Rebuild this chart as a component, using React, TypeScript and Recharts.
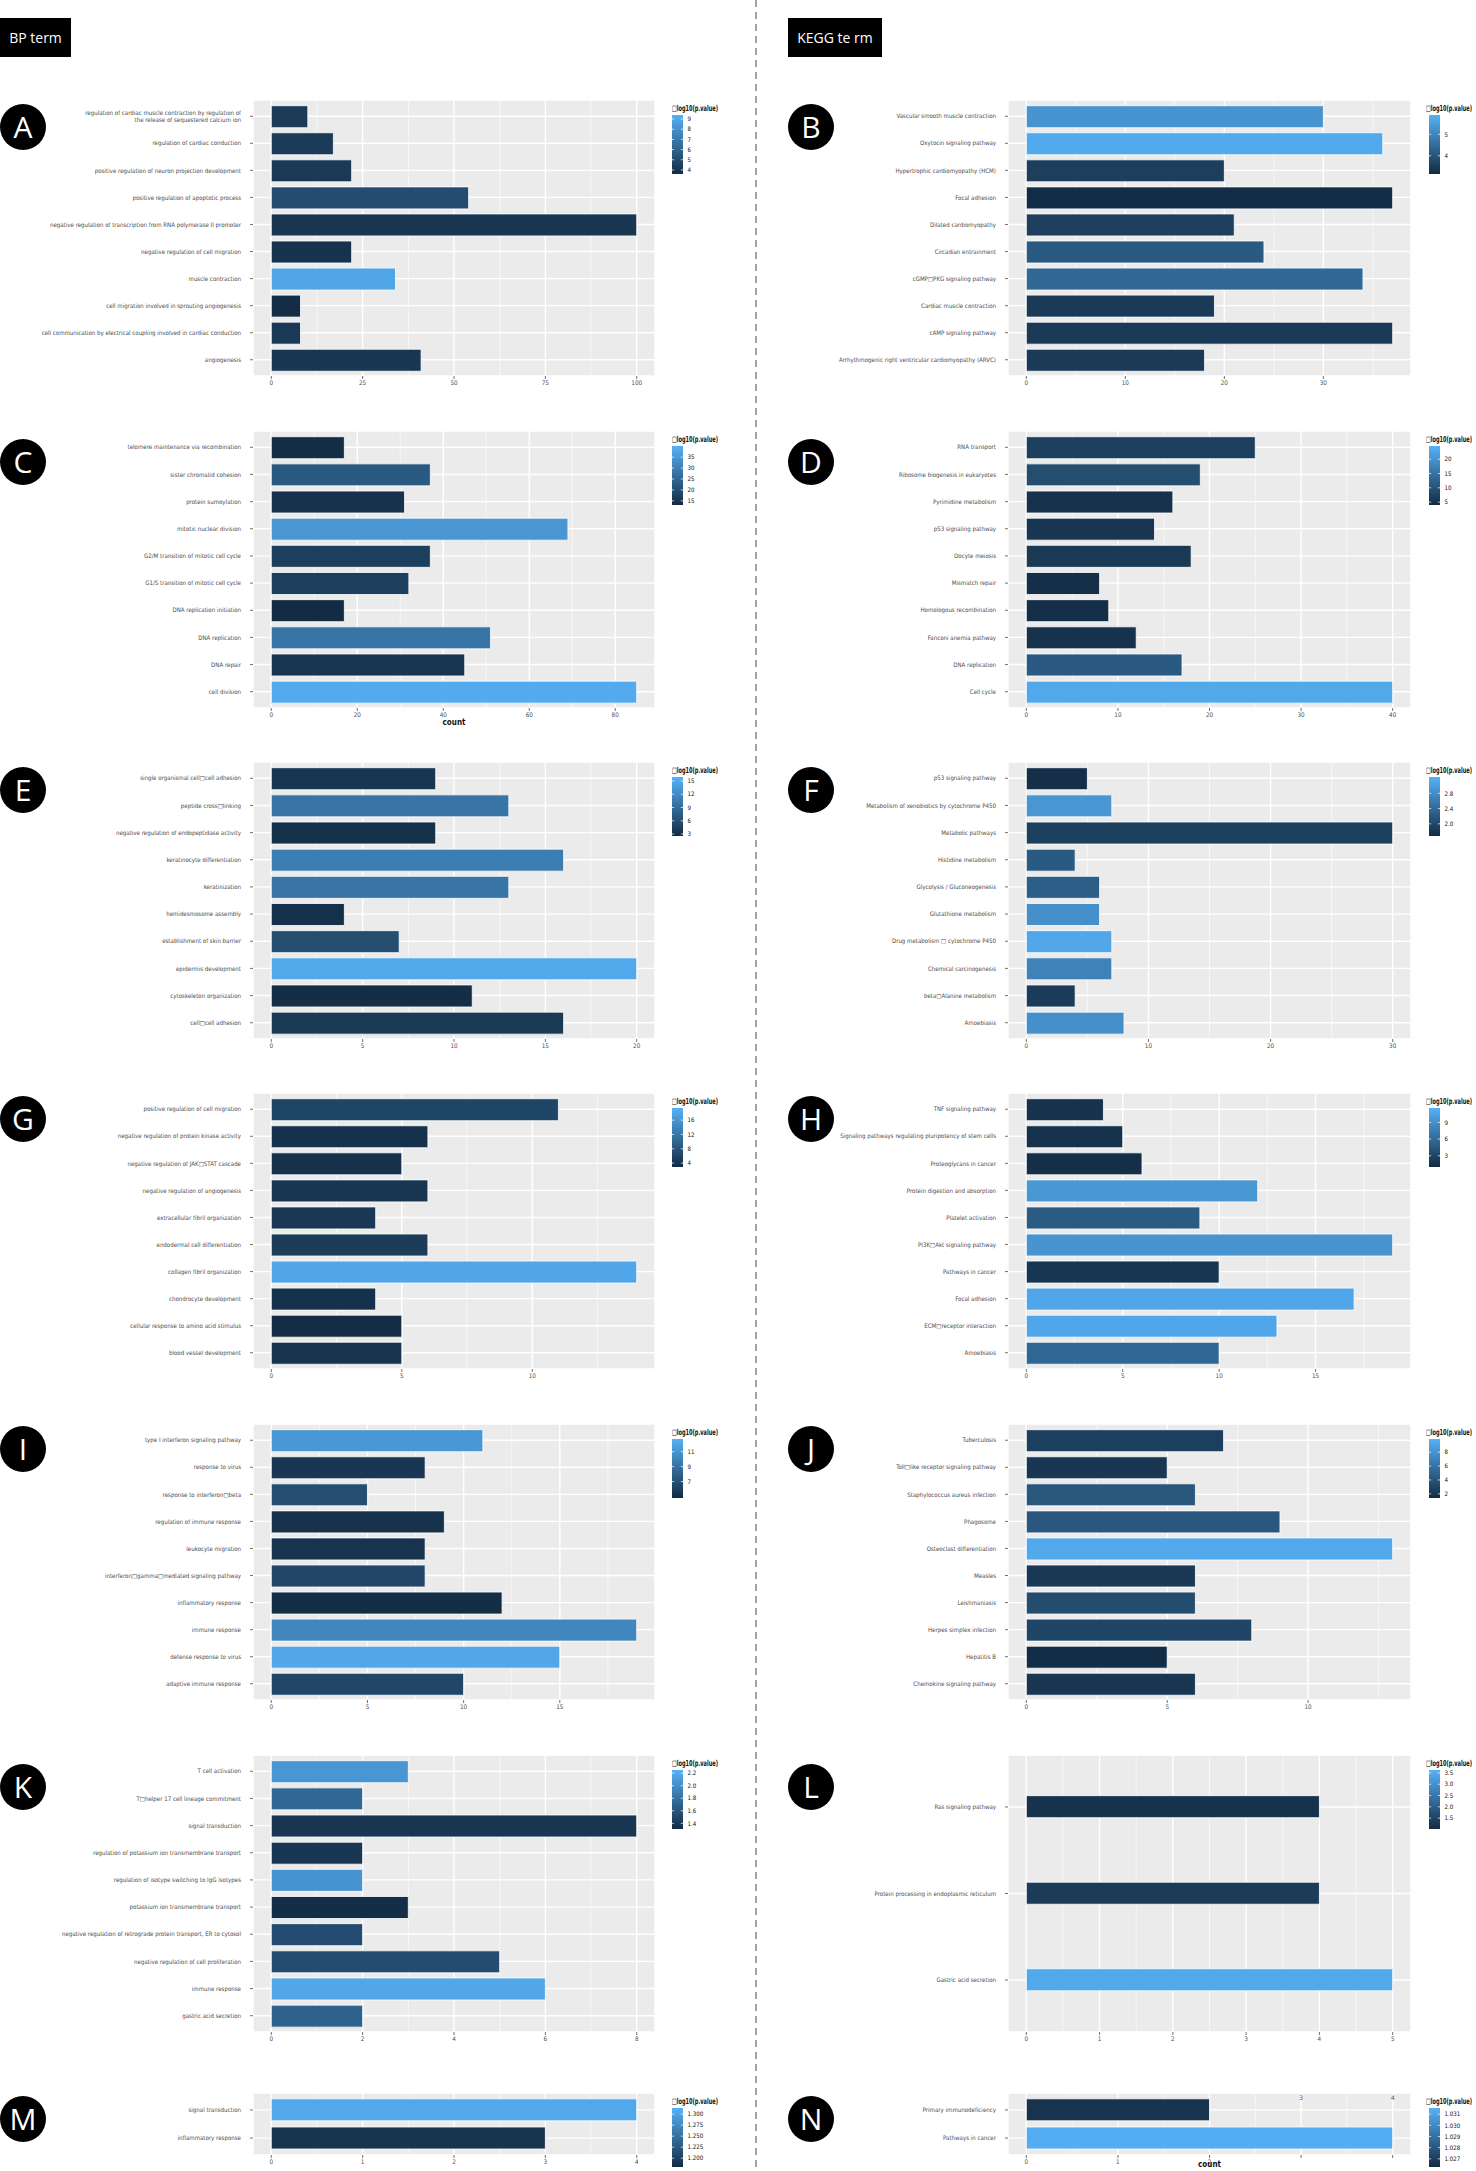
import React from "react";
import { BarChart, Bar, XAxis, YAxis, CartesianGrid, Cell } from "recharts";

const FONT = "'Liberation Sans Narrow', 'DejaVu Sans Condensed', 'Noto Sans', sans-serif";
const HEAD_FONT = "'Open Sans', 'Noto Sans', sans-serif";
const B = "\u25A1";

// ---------- Panel A (BP) ----------
const catsA = [
  "regulation of cardiac muscle contraction by regulation of\nthe release of sequestered calcium ion",
  "regulation of cardiac conduction",
  "positive regulation of neuron projection development",
  "positive regulation of apoptotic process",
  "negative regulation of transcription from RNA polymerase II promoter",
  "negative regulation of cell migration",
  "muscle contraction",
  "cell migration involved in sprouting angiogenesis",
  "cell communication by electrical coupling involved in cardiac conduction",
  "angiogenesis",
];
const countsA = [10, 17, 22, 54, 100, 22, 34, 8, 8, 41];
const logpA = [4.3, 4.3, 4.2, 5.05, 4.1, 3.9, 8.9, 3.7, 4.2, 4.1];
const xTicksA = [0, 25, 50, 75, 100];
const legTicksA = [9, 8, 7, 6, 5, 4];
const legRangeA = [3.6, 9.4];

// ---------- Panel B (KEGG) ----------
const catsB = [
  "Vascular smooth muscle contraction",
  "Oxytocin signaling pathway",
  "Hypertrophic cardiomyopathy (HCM)",
  "Focal adhesion",
  "Dilated cardiomyopathy",
  "Circadian entrainment",
  `cGMP${B}PKG signaling pathway`,
  "Cardiac muscle contraction",
  "cAMP signaling pathway",
  "Arrhythmogenic right ventricular cardiomyopathy (ARVC)",
];
const countsB = [30, 36, 20, 37, 21, 24, 34, 19, 37, 18];
const logpB = [5.3, 5.75, 3.55, 3.2, 3.55, 4.1, 4.4, 3.45, 3.45, 3.45];
const xTicksB = [0, 10, 20, 30];
const legTicksB = [5, 4];
const legRangeB = [3.15, 5.9];

// ---------- Panel C ----------
const catsC = [
  "telomere maintenance via recombination",
  "sister chromatid cohesion",
  "protein sumoylation",
  "mitotic nuclear division",
  "G2/M transition of mitotic cell cycle",
  "G1/S transition of mitotic cell cycle",
  "DNA replication initiation",
  "DNA replication",
  "DNA repair",
  "cell division",
];
const countsC = [17, 37, 31, 69, 37, 32, 17, 51, 45, 85];
const logpC = [13.6, 22.5, 14.5, 34.7, 17.2, 17.2, 13.3, 28, 15.3, 38.7];
const xTicksC = [0, 20, 40, 60, 80];
const legTicksC = [35, 30, 25, 20, 15];
const legRangeC = [13.1, 40.1];

// ---------- Panel D ----------
const catsD = [
  "RNA transport",
  "Ribosome biogenesis in eukaryotes",
  "Pyrimidine metabolism",
  "p53 signaling pathway",
  "Oocyte meiosis",
  "Mismatch repair",
  "Homologous recombination",
  "Fanconi anemia pathway",
  "DNA replication",
  "Cell cycle",
];
const countsD = [25, 19, 16, 14, 18, 8, 9, 12, 17, 40];
const logpD = [7.1, 9.2, 5.0, 5.6, 6.1, 4.6, 4.6, 5.0, 11.2, 23.2];
const xTicksD = [0, 10, 20, 30, 40];
const legTicksD = [20, 15, 10, 5];
const legRangeD = [4.0, 24.6];

// ---------- Panel E ----------
const catsE = [
  `single organismal cell${B}cell adhesion`,
  `peptide cross${B}linking`,
  "negative regulation of endopeptidase activity",
  "keratinocyte differentiation",
  "keratinization",
  "hemidesmosome assembly",
  "establishment of skin barrier",
  "epidermis development",
  "cytoskeleton organization",
  `cell${B}cell adhesion`,
];
const countsE = [9, 13, 9, 16, 13, 4, 7, 20, 11, 16];
const logpE = [3.6, 9.9, 3.0, 10.8, 9.9, 3.0, 5.9, 15, 2.8, 3.9];
const xTicksE = [0, 5, 10, 15, 20];
const legTicksE = [15, 12, 9, 6, 3];
const legRangeE = [2.55, 15.9];

// ---------- Panel F ----------
const catsF = [
  "p53 signaling pathway",
  "Metabolism of xenobiotics by cytochrome P450",
  "Metabolic pathways",
  "Histidine metabolism",
  "Glycolysis / Gluconeogenesis",
  "Glutathione metabolism",
  `Drug metabolism ${B} cytochrome P450`,
  "Chemical carcinogenesis",
  `beta${B}Alanine metabolism`,
  "Amoebiasis",
];
const countsF = [5, 7, 30, 4, 6, 6, 7, 7, 4, 8];
const logpF = [1.73, 2.92, 1.91, 2.22, 2.27, 2.84, 3.11, 2.69, 1.87, 2.84];
const xTicksF = [0, 10, 20, 30];
const legTicksF = [2.8, 2.4, 2.0];
const legRangeF = [1.68, 3.23];

// ---------- Panel G ----------
const catsG = [
  "positive regulation of cell migration",
  "negative regulation of protein kinase activity",
  `negative regulation of JAK${B}STAT cascade`,
  "negative regulation of angiogenesis",
  "extracellular fibril organization",
  "endodermal cell differentiation",
  "collagen fibril organization",
  "chondrocyte development",
  "cellular response to amino acid stimulus",
  "blood vessel development",
];
const countsG = [11, 6, 5, 6, 4, 6, 14, 4, 5, 5];
const logpG = [6.2, 3.7, 3.7, 4.2, 4.55, 5.05, 18.1, 3.7, 3.2, 3.9];
const xTicksG = [0, 5, 10];
const legTicksG = [16, 12, 8, 4];
const legRangeG = [2.9, 19.4];

// ---------- Panel H ----------
const catsH = [
  "TNF signaling pathway",
  "Signaling pathways regulating pluripotency of stem cells",
  "Proteoglycans in cancer",
  "Protein digestion and absorption",
  "Platelet activation",
  `PI3K${B}Akt signaling pathway`,
  "Pathways in cancer",
  "Focal adhesion",
  `ECM${B}receptor interaction`,
  "Amoebiasis",
];
const countsH = [4, 5, 6, 12, 9, 19, 10, 17, 13, 10];
const logpH = [1.5, 1.5, 1.3, 9.5, 4.7, 9.3, 1.8, 10.75, 10.75, 5.75];
const xTicksH = [0, 5, 10, 15];
const legTicksH = [9, 6, 3];
const legRangeH = [0.97, 11.6];

// ---------- Panel I ----------
const catsI = [
  "type I interferon signaling pathway",
  "response to virus",
  `response to interferon${B}beta`,
  "regulation of immune response",
  "leukocyte migration",
  `interferon${B}gamma${B}mediated signaling pathway`,
  "inflammatory response",
  "immune response",
  "defense response to virus",
  "adaptive immune response",
];
const countsI = [11, 8, 5, 9, 8, 8, 12, 19, 15, 10];
const logpI = [11.1, 5.45, 6.8, 5.2, 5.3, 6.4, 4.95, 10.2, 12.1, 6.4];
const xTicksI = [0, 5, 10, 15];
const legTicksI = [11, 9, 7];
const legRangeI = [4.8, 12.7];

// ---------- Panel J ----------
const catsJ = [
  "Tuberculosis",
  `Toll${B}like receptor signaling pathway`,
  "Staphylococcus aureus infection",
  "Phagosome",
  "Osteoclast differentiation",
  "Measles",
  "Leishmaniasis",
  "Herpes simplex infection",
  "Hepatitis B",
  "Chemokine signaling pathway",
];
const countsJ = [7, 5, 6, 9, 13, 6, 6, 8, 5, 6];
const logpJ = [2.7, 2.1, 4.2, 4.2, 9.3, 2.25, 3.5, 3.1, 1.55, 2.1];
const xTicksJ = [0, 5, 10];
const legTicksJ = [8, 6, 4, 2];
const legRangeJ = [1.4, 9.9];

// ---------- Panel K ----------
const catsK = [
  "T cell activation",
  `T${B}helper 17 cell lineage commitment`,
  "signal transduction",
  "regulation of potassium ion transmembrane transport",
  "regulation of isotype switching to IgG isotypes",
  "potassium ion transmembrane transport",
  "negative regulation of retrograde protein transport, ER to cytosol",
  "negative regulation of cell proliferation",
  "immune response",
  "gastric acid secretion",
];
const countsK = [3, 2, 8, 2, 2, 3, 2, 5, 6, 2];
const logpK = [2.06, 1.73, 1.39, 1.39, 2.04, 1.33, 1.545, 1.545, 2.18, 1.69];
const xTicksK = [0, 2, 4, 6, 8];
const legTicksK = [2.2, 2.0, 1.8, 1.6, 1.4];
const legRangeK = [1.31, 2.25];

// ---------- Panel L ----------
const catsL = ["Ras signaling pathway", "Protein processing in endoplasmic reticulum", "Gastric acid secretion"];
const countsL = [4, 4, 5];
const logpL = [1.15, 1.33, 3.45];
const xTicksL = [0, 1, 2, 3, 4, 5];
const legTicksL = [3.5, 3.0, 2.5, 2.0, 1.5];
const legRangeL = [1.02, 3.63];

// ---------- Panel M ----------
const catsM = ["signal transduction", "inflammatory response"];
const countsM = [4, 3];
const logpM = [1.305, 1.19];
const xTicksM = [0, 1, 2, 3, 4];
const legTicksM = [1.3, 1.275, 1.25, 1.225, 1.2];
const legRangeM = [1.18, 1.314];

// ---------- Panel N ----------
const catsN = ["Primary immunodeficiency", "Pathways in cancer"];
const countsN = [2, 4];
const logpN = [1.0266, 1.0314];
const xTicksN = [0, 1, 2, 3, 4];
const xTopLabelsN = [3, 4];
const legTicksN = [1.031, 1.03, 1.029, 1.028, 1.027];
const legRangeN = [1.02627, 1.03155];

const PANELS = [
  { id: "A", cats: catsA, counts: countsA, logp: logpA, xTicks: xTicksA, legTicks: legTicksA, legRange: legRangeA, dec: 0 },
  { id: "B", cats: catsB, counts: countsB, logp: logpB, xTicks: xTicksB, legTicks: legTicksB, legRange: legRangeB, dec: 0 },
  { id: "C", cats: catsC, counts: countsC, logp: logpC, xTicks: xTicksC, legTicks: legTicksC, legRange: legRangeC, dec: 0, xLabel: "count" },
  { id: "D", cats: catsD, counts: countsD, logp: logpD, xTicks: xTicksD, legTicks: legTicksD, legRange: legRangeD, dec: 0 },
  { id: "E", cats: catsE, counts: countsE, logp: logpE, xTicks: xTicksE, legTicks: legTicksE, legRange: legRangeE, dec: 0 },
  { id: "F", cats: catsF, counts: countsF, logp: logpF, xTicks: xTicksF, legTicks: legTicksF, legRange: legRangeF, dec: 1 },
  { id: "G", cats: catsG, counts: countsG, logp: logpG, xTicks: xTicksG, legTicks: legTicksG, legRange: legRangeG, dec: 0 },
  { id: "H", cats: catsH, counts: countsH, logp: logpH, xTicks: xTicksH, legTicks: legTicksH, legRange: legRangeH, dec: 0 },
  { id: "I", cats: catsI, counts: countsI, logp: logpI, xTicks: xTicksI, legTicks: legTicksI, legRange: legRangeI, dec: 0 },
  { id: "J", cats: catsJ, counts: countsJ, logp: logpJ, xTicks: xTicksJ, legTicks: legTicksJ, legRange: legRangeJ, dec: 0 },
  { id: "K", cats: catsK, counts: countsK, logp: logpK, xTicks: xTicksK, legTicks: legTicksK, legRange: legRangeK, dec: 1 },
  { id: "L", cats: catsL, counts: countsL, logp: logpL, xTicks: xTicksL, legTicks: legTicksL, legRange: legRangeL, dec: 1 },
  { id: "M", cats: catsM, counts: countsM, logp: logpM, xTicks: xTicksM, legTicks: legTicksM, legRange: legRangeM, dec: 3 },
  { id: "N", cats: catsN, counts: countsN, logp: logpN, xTicks: xTicksN, legTicks: legTicksN, legRange: legRangeN, dec: 3, xLabel: "count", topLabels: xTopLabelsN },
];

// ---------- layout ----------
const ROW_TOP = [100, 431, 762, 1093, 1424, 1755, 2093];
const ROW_BOTTOM = [376, 708, 1039, 1369, 1700, 2032, 2155];
const CIRCLE_Y = [127, 462, 790, 1119, 1449, 1787, 2119];
const COL_X0 = [0, 760];
const COL_PL = [253, 1008];
const COL_PR = [655, 1411];
const COL_LEG = [672, 1429];
const COL_TITLE_DX = [0, -3];
const COL_CIRCLE = [23, 811];
const X_AXIS_H = 20;
const LABEL_SIZE = 6.1;
const TITLE_W = 46;
const TITLE_SX = 0.6;

const LOW = [19, 43, 67];
const HIGH = [86, 177, 247];
function fillFor(v: number, lo: number, hi: number) {
  const t = Math.max(0, Math.min(1, (v - lo) / (hi - lo)));
  const c = LOW.map((l, i) => Math.round(l + (HIGH[i] - l) * t));
  return `rgb(${c[0]},${c[1]},${c[2]})`;
}

function minorBreaks(ticks: number[], dmin: number, dmax: number) {
  const step = ticks[1] - ticks[0];
  const out: number[] = [];
  for (let v = ticks[0] - step / 2; v <= dmax; v += step) if (v >= dmin) out.push(v);
  return out;
}

const YTick = (props: any) => {
  const { x, y, payload } = props;
  const lines = String(payload.value).split("\n");
  const lh = 7.2;
  const y0 = y - ((lines.length - 1) * lh) / 2 + 2.2;
  return (
    <text x={x} y={y0} textAnchor="end" fontSize={LABEL_SIZE} fill="#4D4D4D" fontFamily={FONT}>
      {lines.map((l, i) => (
        <tspan key={i} x={x} dy={i === 0 ? 0 : lh}>
          {l}
        </tspan>
      ))}
    </text>
  );
};

function makeXTick(plotH: number, topLabels?: number[]) {
  return (props: any) => {
    const { x, y, payload } = props;
    const v = payload.value;
    if (topLabels && topLabels.includes(v)) {
      return (
        <text x={x} y={y - 4 - plotH + 6.5} textAnchor="middle" fontSize={6.3} fill="#4D4D4D" fontFamily={FONT}>
          {v}
        </text>
      );
    }
    return (
      <text x={x} y={y + 5} textAnchor="middle" fontSize={6.3} fill="#4D4D4D" fontFamily={FONT}>
        {v}
      </text>
    );
  };
}

function Panel({ p, idx }: { p: any; idx: number }) {
  const col = idx % 2;
  const row = Math.floor(idx / 2);
  const x0 = COL_X0[col];
  const pl = COL_PL[col];
  const pr = COL_PR[col];
  const top = ROW_TOP[row];
  const H = ROW_BOTTOM[row] - top;
  const n = p.cats.length;
  const u = H / (n - 1 + 1.2);
  const pad = 0.1 * u;
  const max = Math.max(...p.counts);
  const domain = [-0.05 * max, 1.05 * max];
  const minors = minorBreaks(p.xTicks, domain[0], domain[1]);
  const [lo, hi] = p.legRange;
  const data = p.cats.map((c: string, i: number) => ({ name: c, count: p.counts[i], logp: p.logp[i] }));
  const W = pr - x0;
  return (
    <div style={{ position: "absolute", left: x0, top, width: W, height: H + X_AXIS_H }}>
      <BarChart width={W} height={H + X_AXIS_H} data={data} layout="vertical" margin={{ top: 0, right: 0, bottom: 0, left: 0 }}>
        <CartesianGrid fill="#EBEBEB" stroke="#FFFFFF" strokeWidth={1.4} />
        <CartesianGrid horizontal={false} verticalValues={minors} stroke="#FFFFFF" strokeWidth={0.6} />
        <XAxis
          type="number"
          domain={domain}
          allowDataOverflow
          ticks={p.xTicks}
          interval={0}
          height={X_AXIS_H}
          axisLine={false}
          tickLine={{ stroke: "#333333", strokeWidth: 0.7 }}
          tickSize={3}
          tickMargin={1}
          tick={makeXTick(H, p.topLabels)}
        />
        <YAxis
          type="category"
          dataKey="name"
          width={pl - x0}
          padding={{ top: pad, bottom: pad }}
          interval={0}
          axisLine={false}
          tickLine={{ stroke: "#333333", strokeWidth: 0.7 }}
          tickSize={3}
          tickMargin={9}
          tick={(tp: any) => <YTick {...tp} />}
        />
        <Bar dataKey="count" barSize={22} isAnimationActive={false} stroke="#FFFFFF" strokeWidth={0.8}>
          {data.map((d: any, i: number) => (
            <Cell key={i} fill={fillFor(d.logp, lo, hi)} />
          ))}
        </Bar>
      </BarChart>
    </div>
  );
}

function ColorLegend({ p, idx }: { p: any; idx: number }) {
  const col = idx % 2;
  const row = Math.floor(idx / 2);
  const x = COL_LEG[col];
  const top = ROW_TOP[row];
  const [lo, hi] = p.legRange;
  const barTop = 15;
  const barH = 59;
  const barW = 11;
  const gid = "grad" + p.id;
  return (
    <svg style={{ position: "absolute", left: x, top, overflow: "visible" }} width={80} height={80}>
      <defs>
        <linearGradient id={gid} x1="0" y1="0" x2="0" y2="1">
          <stop offset="0" stopColor={fillFor(hi, lo, hi)} />
          <stop offset="1" stopColor={fillFor(lo, lo, hi)} />
        </linearGradient>
      </defs>
      <g transform={`translate(${COL_TITLE_DX[col]},11) scale(${TITLE_SX},1)`}>
        <text
          x={0}
          y={0}
          fontSize={8.2}
          fontWeight={700}
          fill="#111"
          fontFamily={FONT}
          textLength={TITLE_W / TITLE_SX}
          lengthAdjust="spacingAndGlyphs"
        >
          {B}log10(p.value)
        </text>
      </g>
      <rect x={0} y={barTop} width={barW} height={barH} fill={`url(#${gid})`} />
      {p.legTicks.map((v: number) => {
        const y = barTop + ((hi - v) / (hi - lo)) * barH;
        return (
          <g key={v}>
            <line x1={0} x2={2.2} y1={y} y2={y} stroke="#FFFFFF" strokeWidth={0.7} />
            <line x1={barW - 2.2} x2={barW} y1={y} y2={y} stroke="#FFFFFF" strokeWidth={0.7} />
            <text x={barW + 4.5} y={y + 2.2} fontSize={6.1} fill="#111" fontFamily={FONT}>
              {v.toFixed(p.dec)}
            </text>
          </g>
        );
      })}
    </svg>
  );
}

function Circle({ letter, cx, cy }: { letter: string; cx: number; cy: number }) {
  return (
    <div
      style={{
        position: "absolute",
        left: cx - 23,
        top: cy - 23,
        width: 46,
        height: 46,
        borderRadius: "50%",
        background: "#000",
        color: "#fff",
        fontFamily: HEAD_FONT,
        fontSize: 30,
        lineHeight: "46px",
        textAlign: "center",
      }}
    >
      {letter}
    </div>
  );
}

function HeaderBox({ text, left, width }: { text: string; left: number; width: number }) {
  return (
    <div
      style={{
        position: "absolute",
        left,
        top: 18,
        width,
        height: 39,
        background: "#000",
        color: "#fff",
        fontFamily: HEAD_FONT,
        fontSize: 14,
        lineHeight: "39px",
        textAlign: "center",
      }}
    >
      {text}
    </div>
  );
}

function AxisTitle({ text, cx, cy }: { text: string; cx: number; cy: number }) {
  return (
    <div
      style={{
        position: "absolute",
        left: cx - 30,
        top: cy - 5,
        width: 60,
        height: 10,
        lineHeight: "10px",
        textAlign: "center",
        fontFamily: FONT,
        fontSize: 8,
        fontWeight: 700,
        color: "#111",
      }}
    >
      {text}
    </div>
  );
}

export default function App() {
  return (
    <div style={{ position: "relative", width: 1476, height: 2171, overflow: "hidden", background: "#fff" }}>
      <style>{"html,body{margin:0;padding:0;overflow:hidden;background:#fff}"}</style>
      <svg style={{ position: "absolute", left: 0, top: 0 }} width={1476} height={2171}>
        <line x1={756} x2={756} y1={0} y2={2171} stroke="#666" strokeWidth={1.2} strokeDasharray="7 5" />
      </svg>
      <HeaderBox text="BP term" left={0} width={71} />
      <HeaderBox text="KEGG te rm" left={788} width={94} />
      {PANELS.map((p, i) => (
        <Panel key={p.id} p={p} idx={i} />
      ))}
      {PANELS.map((p, i) => (
        <ColorLegend key={"l" + p.id} p={p} idx={i} />
      ))}
      {PANELS.map((p, i) => (
        <Circle key={"c" + p.id} letter={p.id} cx={COL_CIRCLE[i % 2]} cy={CIRCLE_Y[Math.floor(i / 2)]} />
      ))}
      {PANELS.map((p, i) =>
        p.xLabel ? (
          <AxisTitle
            key={"t" + p.id}
            text={p.xLabel}
            cx={(COL_PL[i % 2] + COL_PR[i % 2]) / 2}
            cy={Math.min(ROW_BOTTOM[Math.floor(i / 2)] + 15, 2165)}
          />
        ) : null
      )}
    </div>
  );
}
